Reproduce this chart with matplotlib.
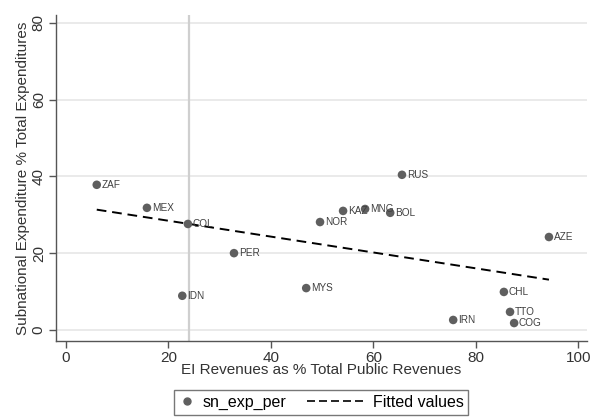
import numpy as np
import matplotlib
matplotlib.use("Agg")
import matplotlib.pyplot as plt
from matplotlib.lines import Line2D
from matplotlib.legend_handler import HandlerLine2D

plt.rcParams['font.family'] = ['Liberation Sans', 'DejaVu Sans']

# Country codes and values
countries = ["ZAF", "MEX", "COL", "PER", "IDN", "RUS", "KAZ", "MNG", "BOL",
             "NOR", "MYS", "AZE", "CHL", "TTO", "COG", "IRN"]
ei_revenue_pct = [6.0, 15.8, 23.8, 32.8, 22.7, 65.6, 54.1, 58.4, 63.3,
                  49.6, 46.9, 94.3, 85.5, 86.7, 87.5, 75.6]
sn_exp_per = [37.8, 31.8, 27.6, 20.0, 8.9, 40.4, 31.0, 31.5, 30.5,
              28.1, 10.9, 24.2, 9.9, 4.7, 1.8, 2.6]
ref_x = 24
x_ticks = [0, 20, 40, 60, 80, 100]
y_ticks = [0, 20, 40, 60, 80]

x = np.array(ei_revenue_pct)
y = np.array(sn_exp_per)


class LongLineHandler(HandlerLine2D):
    """Legend line that reaches further left than the handle box."""
    def __init__(self, length_em, **kw):
        super().__init__(**kw)
        self.length_em = length_em

    def create_artists(self, legend, orig_handle, xdescent, ydescent,
                       width, height, fontsize, trans):
        arts = super().create_artists(legend, orig_handle, xdescent,
                                      ydescent, width, height, fontsize,
                                      trans)
        x1 = width - xdescent
        x0 = x1 - self.length_em * fontsize
        for a in arts:
            a.set_xdata(np.linspace(x0, x1, len(a.get_xdata())))
        return arts


fig = plt.figure(figsize=(5.97, 4.18), dpi=100)
ax = fig.add_axes([0.093, 0.184, 0.89, 0.780])

for t in y_ticks:
    ax.axhline(t, color="#e6e6e6", lw=1.2, zorder=0)
ax.axvline(ref_x, color="#cfcfcf", lw=1.6, zorder=1)

# Linear fit over the observed range
slope, intercept = np.polyfit(x, y, 1)
xf = np.array([x.min(), x.max()])
ax.plot(xf, intercept + slope * xf, color="black", lw=1.4,
        dashes=(5, 3), zorder=3)

ax.scatter(x, y, s=38, color="#5f5f5f", edgecolors="none", zorder=4)
for name, xi, yi in zip(countries, x, y):
    ax.annotate(name, (xi, yi), xytext=(3.5, 0), textcoords="offset points",
                fontsize=7.2, color="#404040", va="center", ha="left",
                zorder=5)

ax.set_xlim(-2.05, 101.7)
ax.set_ylim(-2.9, 82)
ax.set_xticks(x_ticks)
ax.set_yticks(y_ticks)
ax.tick_params(axis="both", direction="out", length=5, width=1,
               color="#555555", labelsize=11, labelcolor="#333333", pad=2)
for lab in ax.get_yticklabels():
    lab.set_rotation(90)
    lab.set_va("center")

for s in ["top", "right"]:
    ax.spines[s].set_visible(False)
for s in ["left", "bottom"]:
    ax.spines[s].set_color("#555555")
    ax.spines[s].set_linewidth(1)

ax.set_xlabel("EI Revenues as % Total Public Revenues", fontsize=11,
              color="#333333", labelpad=-1)
ax.set_ylabel("Subnational Expenditure % Total Expenditures", fontsize=11,
              color="#333333", labelpad=1)

pt_handle = Line2D([], [], marker="o", ls="none", color="#5f5f5f",
                   markersize=5)
fit_handle = Line2D([], [], color="black", lw=1.2, dashes=(4.8, 2.4))
fig.legend([pt_handle, fit_handle], ["sn_exp_per", "Fitted values"],
           loc="upper center", bbox_to_anchor=(0.5377, 0.067), ncol=2,
           frameon=True, fancybox=False, edgecolor="#555555", fontsize=11.5,
           handlelength=1.0, columnspacing=3.9, handletextpad=0.5,
           borderpad=0.3, borderaxespad=0,
           handler_map={fit_handle: LongLineHandler(3.63)})

fig.savefig("out.png", dpi=100, facecolor="white")
